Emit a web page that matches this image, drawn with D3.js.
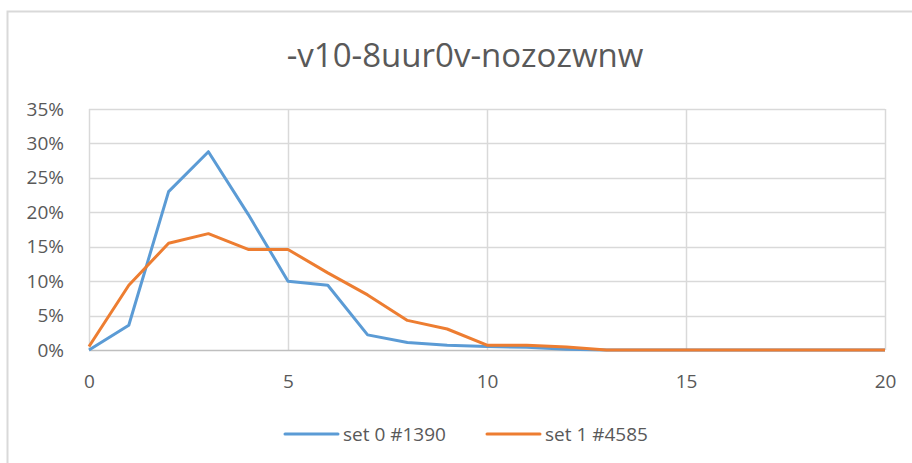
<!DOCTYPE html>
<html>
<head>
<meta charset="utf-8">
<script src="https://cdn.jsdelivr.net/npm/d3@7"></script>
<style>
  body { margin: 0; background: #fff; }
  svg { display: block; font-family: "Open Sans", "Liberation Sans", sans-serif; }
</style>
</head>
<body>
<script>
var title = '-v10-8uur0v-nozozwnw';
var xValues = [0, 1, 2, 3, 4, 5, 6, 7, 8, 9, 10, 11, 12, 13, 14, 15, 16, 17, 18, 19, 20];
var set0 = [0, 3.6, 23.0, 28.8, 19.7, 10.0, 9.4, 2.2, 1.1, 0.7, 0.5, 0.4, 0.1, 0, 0, 0, 0, 0, 0, 0, 0];
var set1 = [0.5, 9.4, 15.5, 16.9, 14.6, 14.6, 11.2, 8.0, 4.3, 3.05, 0.7, 0.7, 0.45, 0, 0, 0, 0, 0, 0, 0, 0];
var seriesNames = ['set 0 #1390', 'set 1 #4585'];
var colors = ['#5B9BD5', '#ED7D31'];
var yTicks = [0, 5, 10, 15, 20, 25, 30, 35];
var xTicks = [0, 5, 10, 15, 20];

var W = 912, H = 463;
var svg = d3.select('body').append('svg').attr('width', W).attr('height', H);

/*FRAME*/
svg.append('path')
    .attr('d', 'M7.5,' + H + 'V11.5H' + W)
    .attr('fill', 'none')
    .attr('stroke', '#d9d9d9')
    .attr('stroke-width', 2);

var x = d3.scaleLinear().domain([0, 20]).range([89, 885]);
var y = d3.scaleLinear().domain([0, 35]).range([350, 109]);

/*TITLE*/
svg.append('text')
    .attr('x', 465).attr('y', 67)
    .attr('text-anchor', 'middle')
    .attr('font-size', 33)
    .attr('fill', '#595959')
    .text(title);

/*GRID*/
svg.append('g').selectAll('line.h')
    .data(yTicks.filter(function(d) { return d > 0; }))
    .enter().append('line')
        .attr('x1', x(0)).attr('x2', x(20))
        .attr('y1', function(d) { return Math.round(y(d)) + 0.5; })
        .attr('y2', function(d) { return Math.round(y(d)) + 0.5; })
        .attr('stroke', '#d9d9d9').attr('stroke-width', 1.5);

svg.append('g').selectAll('line.v')
    .data(xTicks)
    .enter().append('line')
        .attr('x1', function(d) { return Math.round(x(d)) + 0.5; })
        .attr('x2', function(d) { return Math.round(x(d)) + 0.5; })
        .attr('y1', y(35)).attr('y2', y(0))
        .attr('stroke', '#d9d9d9').attr('stroke-width', 1.5);

// bottom axis line
svg.append('line')
    .attr('x1', x(0)).attr('x2', x(20))
    .attr('y1', y(0) + 0.5).attr('y2', y(0) + 0.5)
    .attr('stroke', '#bfbfbf').attr('stroke-width', 1.5);

/*AXES*/
var yAxis = svg.append('g')
    .attr('transform', 'translate(' + (x(0) - 22) + ',0)')
    .call(d3.axisLeft(y).tickValues(yTicks).tickSize(0).tickFormat(function(d) { return d + '%'; }));
var xAxis = svg.append('g')
    .attr('transform', 'translate(0,' + (y(0) + 21.5) + ')')
    .call(d3.axisBottom(x).tickValues(xTicks).tickSize(0));
[yAxis, xAxis].forEach(function(a) {
    a.select('.domain').remove();
    a.selectAll('text')
        .attr('font-size', 19)
        .attr('font-family', '"Open Sans", "Liberation Sans", sans-serif')
        .attr('fill', '#595959');
});

/*LINES*/
var line = d3.line()
    .x(function(d, i) { return x(xValues[i]); })
    .y(function(d) { return y(d); });

svg.selectAll('path.series')
    .data([set0, set1])
    .enter().append('path')
        .attr('class', 'series')
        .attr('d', line)
        .attr('fill', 'none')
        .attr('stroke', function(d, i) { return colors[i]; })
        .attr('stroke-width', 3)
        .attr('stroke-linejoin', 'round');

/*LEGEND*/
var legendX = [285, 487];
var legend = svg.selectAll('g.legend')
    .data(seriesNames)
    .enter().append('g')
        .attr('class', 'legend')
        .attr('transform', function(d, i) { return 'translate(' + legendX[i] + ',434)'; });
legend.append('line')
    .attr('x1', 0).attr('x2', 53)
    .attr('stroke', function(d, i) { return colors[i]; })
    .attr('stroke-width', 3)
    .attr('stroke-linecap', 'round');
legend.append('text')
    .attr('x', 58).attr('y', 7)
    .attr('font-size', 19)
    .attr('fill', '#595959')
    .text(function(d) { return d; });
</script>
</body>
</html>
